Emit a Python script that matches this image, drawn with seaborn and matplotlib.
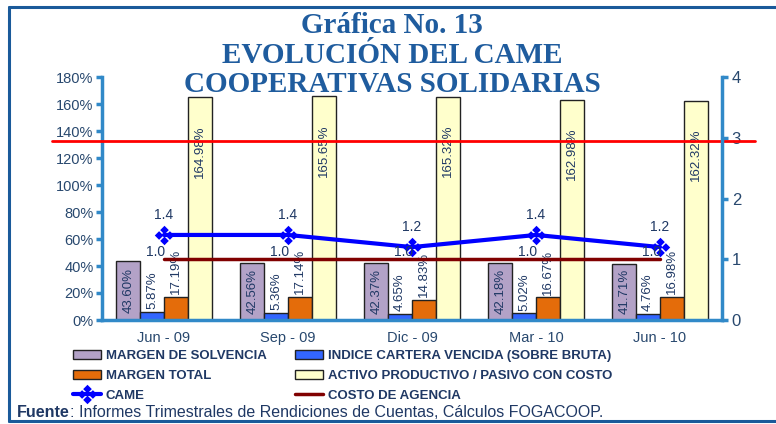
import matplotlib
matplotlib.use("Agg")
import matplotlib.pyplot as plt
from matplotlib.lines import Line2D
from matplotlib.path import Path
from matplotlib.ticker import FixedLocator, FuncFormatter
import numpy as np
import pandas as pd
import seaborn as sns

# data
periods = ["Jun - 09", "Sep - 09", "Dic - 09", "Mar - 10", "Jun - 10"]
margen_solvencia = [43.60, 42.56, 42.37, 42.18, 41.71]
indice_cartera = [5.87, 5.36, 4.65, 5.02, 4.76]
margen_total = [17.19, 17.14, 14.83, 16.67, 16.98]
activo_pasivo = [164.98, 165.65, 165.32, 162.98, 162.32]
came = [1.4, 1.4, 1.2, 1.4, 1.2]
costo_agencia = [1.0, 1.0, 1.0, 1.0, 1.0]
ref_level = 2.95  # red horizontal reference line (right axis)

series = ["MARGEN DE SOLVENCIA", "INDICE CARTERA VENCIDA (SOBRE BRUTA)",
          "MARGEN TOTAL", "ACTIVO PRODUCTIVO / PASIVO CON COSTO"]
bar_colors = ["#B3A2C7", "#3366FF", "#E46C0A", "#FFFFCC"]

W, H = 776, 424
spine_col = "#3189C8"
tick_col = "#28486E"
text_col = "#1F3864"
title_col = "#1F5C9E"


def came_marker():
    # four little diamonds arranged as a cross
    verts, codes = [], []
    r = 0.8
    for cx, cy in [(0, 1), (1, 0), (0, -1), (-1, 0)]:
        verts += [(cx, cy + r), (cx + r, cy), (cx, cy - r), (cx - r, cy), (cx, cy + r)]
        codes += [Path.MOVETO, Path.LINETO, Path.LINETO, Path.LINETO, Path.CLOSEPOLY]
    return Path(verts, codes)


df = pd.DataFrame({
    "period": periods * 4,
    "serie": np.repeat(series, len(periods)),
    "value": margen_solvencia + indice_cartera + margen_total + activo_pasivo,
})

sns.set_style("white")
plt.rcParams["font.family"] = ["Liberation Sans", "DejaVu Sans"]

fig = plt.figure(figsize=(W / 100, H / 100), dpi=100)
ax = fig.add_axes([102 / W, 1 - 320 / H, 620 / W, 243 / H])

sns.barplot(data=df, x="period", y="value", hue="serie", order=periods,
            hue_order=series, palette=bar_colors, saturation=1, width=0.77,
            edgecolor="#222222", linewidth=1, ax=ax)
bar_handles, bar_labels = ax.get_legend_handles_labels()
ax.legend_.remove()

# value labels on the bars
for j, cont in enumerate(ax.containers):
    for bar in cont:
        x = bar.get_x() + bar.get_width() / 2
        v = bar.get_height()
        if j == 0:
            y, va = v / 2, "center"
        elif j == 3:
            y, va = v - 40, "center"
        else:
            y, va = v + 2, "bottom"
        ax.text(x, y, f"{v:.2f}%", rotation=90, ha="center", va=va,
                fontsize=9.5, color=text_col)

ax.set_xlim(-0.5, len(periods) - 0.5)
ax.set_ylim(0, 180)
ax.set_yticks(range(0, 181, 20))
ax.yaxis.set_major_formatter(FuncFormatter(lambda v, p: f"{v:.0f}%"))
ax.xaxis.set_minor_locator(FixedLocator([i + 0.5 for i in range(len(periods) - 1)]))
ax.set_xlabel("")
ax.set_ylabel("")
ax.tick_params(axis="x", which="major", length=0, pad=8, labelsize=10.5,
               labelcolor=tick_col)
ax.tick_params(axis="x", which="minor", length=5, width=2.5, color=spine_col)
ax.tick_params(axis="y", length=4, width=2.5, color=spine_col, pad=2,
               labelsize=10.5, labelcolor=tick_col)
for s in ["top", "right"]:
    ax.spines[s].set_visible(False)
for s in ["left", "bottom"]:
    ax.spines[s].set_color(spine_col)
    ax.spines[s].set_linewidth(2.5)

ax2 = ax.twinx()
pos = np.arange(len(periods))
sns.lineplot(x=pos, y=costo_agencia, ax=ax2, color="#800000", linewidth=2.5,
             label="COSTO DE AGENCIA")
sns.lineplot(x=pos, y=came, ax=ax2, color="#0000FF", linewidth=3,
             marker=came_marker(), markersize=14, markeredgewidth=0,
             label="CAME")
if ax2.legend_:
    ax2.legend_.remove()
line_handles, line_labels = ax2.get_legend_handles_labels()

for i, v in enumerate(came):
    ax2.text(i, v + 0.22, f"{v:.1f}", ha="center", va="bottom",
             fontsize=10, color=text_col)
for i, c in enumerate(costo_agencia):
    ax2.text(i - 0.07, c + 0.01, f"{c:.1f}", ha="center", va="bottom",
             fontsize=10, color=text_col)

ax2.axhline(ref_level, xmin=-50 / 620, xmax=1 + 33 / 620, color="#FF0000",
            linewidth=2, clip_on=False)

ax2.set_xlim(-0.5, len(periods) - 0.5)
ax2.set_ylim(0, 4)
ax2.set_yticks(range(0, 5))
ax2.set_ylabel("")
ax2.tick_params(axis="y", length=4, width=2.5, color=spine_col, pad=3,
                labelsize=12, labelcolor=tick_col)
for s in ["top", "left", "bottom"]:
    ax2.spines[s].set_visible(False)
ax2.spines["right"].set_color(spine_col)
ax2.spines["right"].set_linewidth(2.5)

# legend in two columns
hmap = dict(zip(bar_labels + line_labels, bar_handles + line_handles))
cols = [["MARGEN DE SOLVENCIA", "MARGEN TOTAL", "CAME"],
        ["INDICE CARTERA VENCIDA (SOBRE BRUTA)",
         "ACTIVO PRODUCTIVO / PASIVO CON COSTO", "COSTO DE AGENCIA"]]
for names, x0 in zip(cols, [73, 295]):
    leg = fig.legend([hmap[n] for n in names], names, loc="upper left",
                     bbox_to_anchor=(x0 / W, 1 - 350 / H), frameon=False,
                     borderpad=0, borderaxespad=0, handlelength=2.1,
                     handleheight=0.7, handletextpad=0.4, labelspacing=0.58,
                     prop={"weight": "bold", "size": 9.5})
    for t in leg.get_texts():
        t.set_color(text_col)

# title
for txt, base in [("Gráfica No. 13", 33), ("EVOLUCIÓN DEL CAME", 63),
                  ("COOPERATIVAS SOLIDARIAS", 92)]:
    fig.text(392 / W, 1 - base / H, txt, ha="center", va="baseline",
             family=["Liberation Serif", "DejaVu Serif"], weight="bold",
             fontsize=21, color=title_col)

# source note
src = fig.text(17 / W, 1 - 417 / H, "Fuente", weight="bold", fontsize=11.5,
               color=text_col, va="baseline")
r = fig.canvas.get_renderer()
bb = src.get_window_extent(r)
fig.text(bb.x1 / W, 1 - 417 / H,
         ": Informes Trimestrales de Rendiciones de Cuentas, Cálculos FOGACOOP.",
         fontsize=11.5, color=text_col, va="baseline")

# blue frame around the chart
frame = dict(transform=fig.transFigure, color="#1A5A9A", linewidth=2.2)
fig.add_artist(Line2D([9 / W, 9 / W], [1 - 7 / H, 1 - 421 / H], **frame))
fig.add_artist(Line2D([9 / W, 1], [1 - 7 / H, 1 - 7 / H], **frame))
fig.add_artist(Line2D([9 / W, 1], [1 - 421 / H, 1 - 421 / H], **frame))

fig.savefig("out.png", dpi=100)
